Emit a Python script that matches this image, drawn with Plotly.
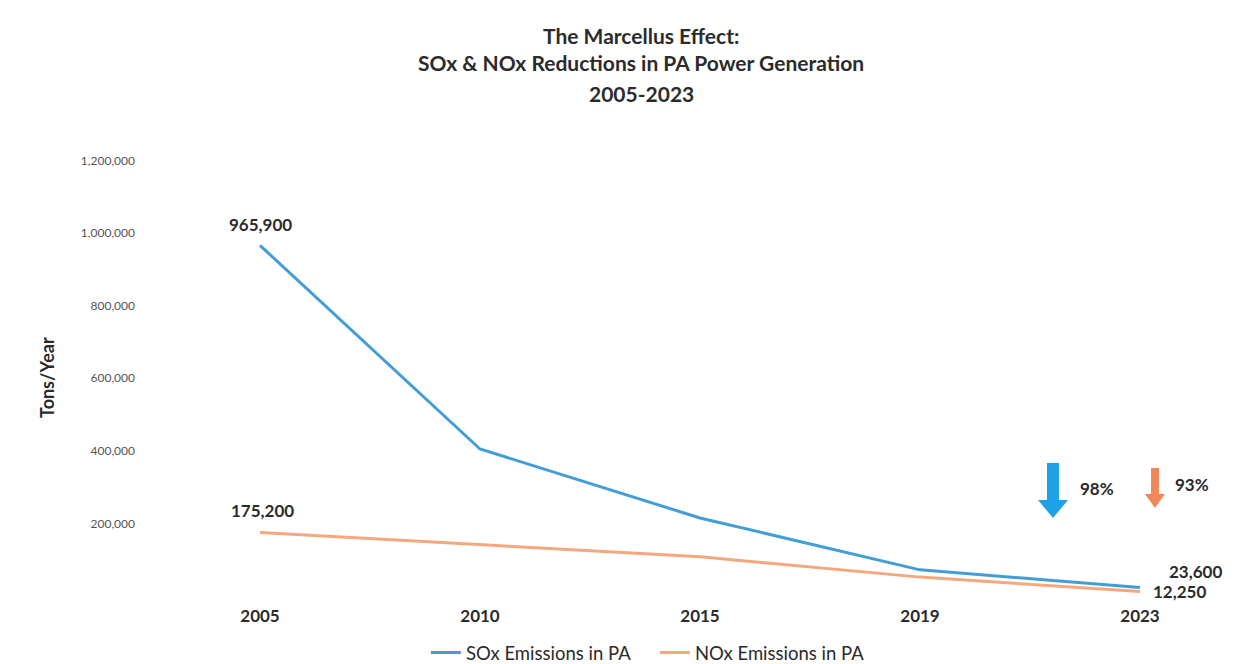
import plotly.graph_objects as go

years = ["2005", "2010", "2015", "2019", "2023"]
sox = [965900, 405000, 215000, 72000, 23600]
nox = [175200, 142000, 108000, 52000, 12250]
sox_labels = ["965,900", "", "", "", "23,600"]
nox_labels = ["175,200", "", "", "", "12,250"]
ytick_vals = [200000, 400000, 600000, 800000, 1000000, 1200000]
ytick_text = ["200,000", "400,000", "600,000", "800,000", "1,000,000", "1,200,000"]
reductions = ["98%", "93%"]
title_lines = ["The Marcellus Effect:", "SOx & NOx Reductions in PA Power Generation", "2005-2023"]

SOX_C = "#439dd6"
NOX_C = "#f5a77e"
FONT = "Lato"
DARK = "#2b2b2b"

# plot area in pixels
L, R, T, B = 150, 1191, 130, 600
W, H = 1251, 664

def px(x):
    return (x - L) / (R - L)

def py(y):
    return (B - y) / (B - T)

fig = go.Figure()
fig.add_trace(go.Scatter(x=years, y=sox, mode="lines", name="SOx Emissions in PA",
                         line=dict(color=SOX_C, width=3)))
fig.add_trace(go.Scatter(x=years, y=nox, mode="lines", name="NOx Emissions in PA",
                         line=dict(color=NOX_C, width=3)))

ann = []
lab_font = dict(family=FONT, size=17, color=DARK, weight="bold")
ann.append(dict(x=0, y=sox[0], text=sox_labels[0], showarrow=False, yshift=21, xshift=0, font=lab_font))
ann.append(dict(x=0, y=nox[0], text=nox_labels[0], showarrow=False, yshift=22, xshift=2, font=lab_font))
ann.append(dict(x=4, y=sox[4], text=sox_labels[4], showarrow=False, yshift=16, xshift=55, font=lab_font))
ann.append(dict(x=4, y=nox[4], text=nox_labels[4], showarrow=False, yshift=0, xshift=39, font=lab_font))


def pann(text, x, y, font, angle=0):
    return dict(x=px(x), y=py(y), xref="paper", yref="paper", xanchor="center", yanchor="middle",
                text=text, showarrow=False, font=font, textangle=angle)

ann.append(pann(reductions[0], 1097, 489, lab_font))
ann.append(pann(reductions[1], 1192, 484, lab_font))

title_y = [35, 62, 94]
for t, yy in zip(title_lines, title_y):
    ann.append(pann(f"<b>{t}</b>", 641, yy, dict(family=FONT, size=21, color=DARK)))

ann.append(pann("<b>Tons/Year</b>", 47, 378, dict(family=FONT, size=18, color=DARK), angle=-90))

def arrow_path(cx, top, head_start, bottom, shaft_w, head_w):
    pts = [(cx - shaft_w / 2, top), (cx + shaft_w / 2, top), (cx + shaft_w / 2, head_start),
           (cx + head_w / 2, head_start), (cx, bottom), (cx - head_w / 2, head_start),
           (cx - shaft_w / 2, head_start)]
    return "M " + " L ".join(f"{px(x):.5f},{py(y):.5f}" for x, y in pts) + " Z"

shapes = [
    dict(type="path", xref="paper", yref="paper", path=arrow_path(1053, 463, 500, 518, 12, 30),
         fillcolor="#1fa1e8", line=dict(width=0)),
    dict(type="path", xref="paper", yref="paper", path=arrow_path(1155, 468, 494, 508, 8, 20),
         fillcolor="#f2875a", line=dict(width=0)),
]

fig.update_layout(
    width=W, height=H,
    margin=dict(l=L, r=W - R, t=T, b=H - B, autoexpand=False),
    paper_bgcolor="white", plot_bgcolor="white",
    font=dict(family=FONT, color="#333333"),
    xaxis=dict(type="category", range=[-0.5, (R - L) / 220 - 0.5], showgrid=False, showline=False,
               zeroline=False, ticks="", tickfont=dict(family=FONT, size=17, color=DARK, weight="bold"),
               ticklabelstandoff=4),
    yaxis=dict(range=[-11019, -11019 + 470 / 72.6 * 200000], showgrid=False, showline=False, zeroline=False,
               tickvals=ytick_vals, ticktext=ytick_text, ticks="",
               tickfont=dict(family=FONT, size=12, color="#555555"), ticklabelstandoff=14),
    legend=dict(orientation="h", x=0.485, xanchor="center", y=py(653), yanchor="middle",
                font=dict(family=FONT, size=18.5, color=DARK), itemwidth=30, tracegroupgap=0,
                entrywidth=184),
    annotations=ann, shapes=shapes, showlegend=True,
)

fig.write_html("out.html")
